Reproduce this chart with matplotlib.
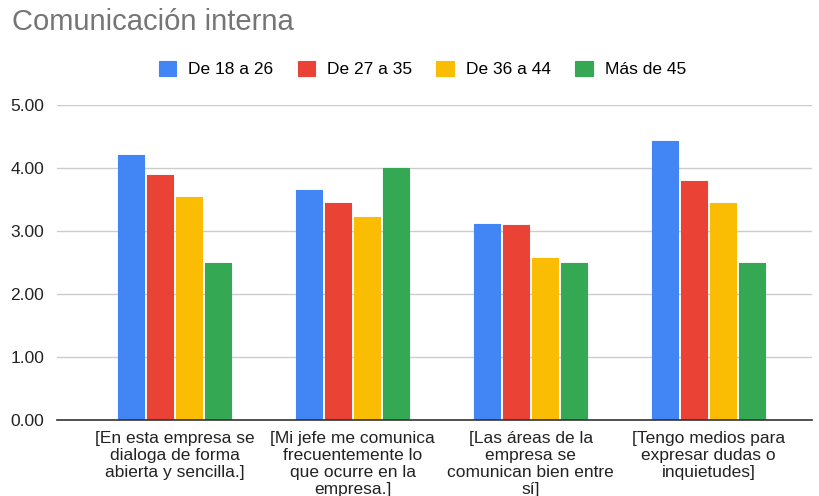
import numpy as np
import matplotlib.pyplot as plt

plt.rcParams['font.family'] = ['Liberation Sans', 'DejaVu Sans']

# promedio por pregunta y grupo de edad
preguntas = [
    "[En esta empresa se\ndialoga de forma\nabierta y sencilla.]",
    "[Mi jefe me comunica\nfrecuentemente lo\nque ocurre en la\nempresa.]",
    "[Las áreas de la\nempresa se\ncomunican bien entre\nsí]",
    "[Tengo medios para\nexpresar dudas o\ninquietudes]",
]
grupos = ["De 18 a 26", "De 27 a 35", "De 36 a 44", "Más de 45"]
edad_18_26 = [4.21, 3.66, 3.12, 4.43]
edad_27_35 = [3.89, 3.45, 3.10, 3.80]
edad_36_44 = [3.54, 3.22, 2.58, 3.44]
mas_de_45 = [2.50, 4.00, 2.50, 2.50]
colores = ["#4285F4", "#EA4335", "#FBBC04", "#34A853"]

series = [edad_18_26, edad_27_35, edad_36_44, mas_de_45]

fig = plt.figure(figsize=(8.2, 4.96), dpi=100)
ax = fig.add_axes([0.0695, 0.1532, 0.9205, 0.6348])

x = np.arange(len(preguntas))
ancho = 0.146
paso = 0.163
for i, (vals, nombre, c) in enumerate(zip(series, grupos, colores)):
    ax.bar(x + (i - 1.5) * paso, vals, ancho, color=c, label=nombre,
           edgecolor=c, linewidth=0.8, joinstyle='round', zorder=3)

ax.set_ylim(0, 5)
ax.set_xlim(-0.663, 3.58)
ax.set_yticks([0, 1, 2, 3, 4, 5])
ax.set_yticklabels([f"{v:.2f}" for v in range(6)], fontsize=12.5, color="#222222")
ax.set_xticks(x)
ax.set_xticklabels(preguntas, fontsize=12.5, color="#222222", linespacing=1.15,
                   va="top")
ax.tick_params(axis="both", length=0)
ax.tick_params(axis="y", pad=2)
ax.tick_params(axis="x", pad=8)
for lbl in ax.get_yticklabels():
    lbl.set_horizontalalignment("left")
    lbl.set_x(-0.058)

ax.grid(axis="y", color="#cccccc", linewidth=1, zorder=0)
for s in ["top", "right", "left"]:
    ax.spines[s].set_visible(False)
ax.spines["bottom"].set_color("#333333")
ax.spines["bottom"].set_linewidth(1.2)
ax.spines["bottom"].set_zorder(4)

fig.text(12 / 820, 1 - 22 / 496, "Comunicación interna", fontsize=21,
         color="#757575", va="center", ha="left")

fig.legend(loc="center", bbox_to_anchor=(0.515, 1 - 69 / 496), ncol=4,
           frameon=False, fontsize=12.5, handlelength=1.0, handleheight=1.0,
           handletextpad=0.7, columnspacing=1.4)

fig.savefig("out.png", dpi=100)
